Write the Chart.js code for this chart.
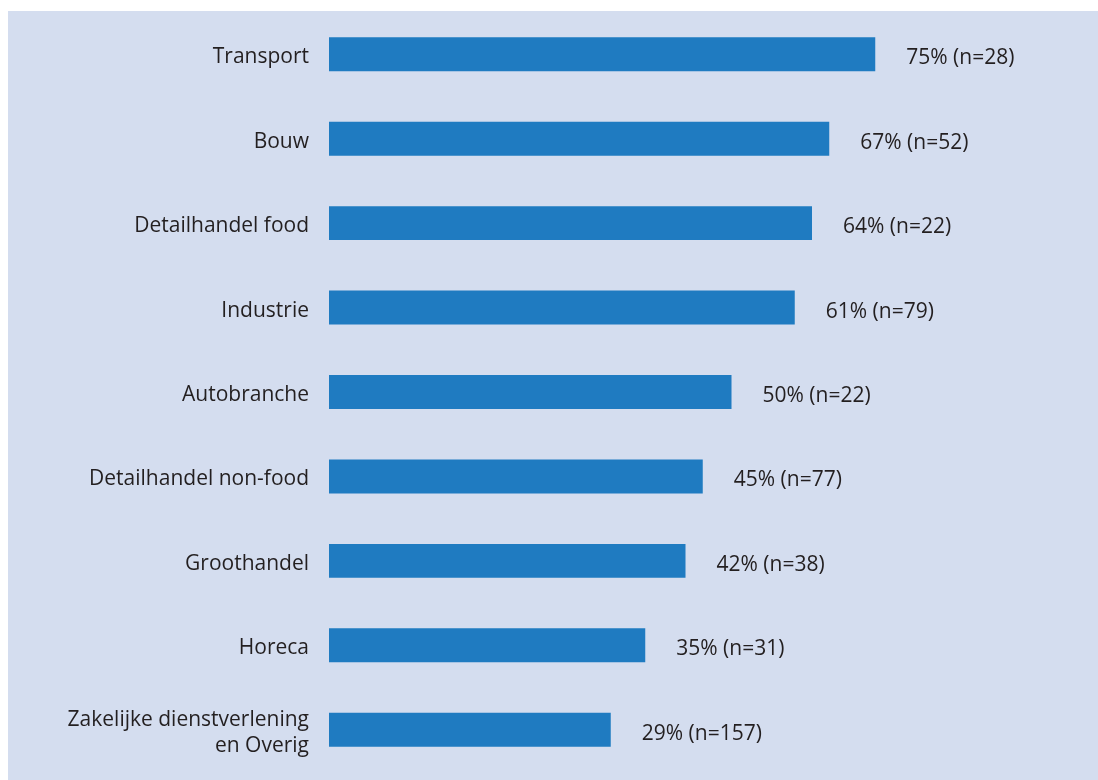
<!DOCTYPE html>
<html>
<head>
<meta charset="utf-8">
<script src="https://cdn.jsdelivr.net/npm/chart.js@4.4.1/dist/chart.umd.min.js"></script>
<style>
  html, body { margin: 0; padding: 0; background: #ffffff; }
  #panel {
    position: absolute; left: 8px; top: 11px;
    width: 1090px; height: 769px;
    background: #d4ddef;
  }
  #panel canvas { display: block; }
</style>
</head>
<body>
<div id="panel"><canvas id="chart" width="1090" height="769"></canvas></div>
<script>
// Sectors (categories), share in percent and number of respondents
const sectors = [
  'Transport',
  'Bouw',
  'Detailhandel food',
  'Industrie',
  'Autobranche',
  'Detailhandel non-food',
  'Groothandel',
  'Horeca',
  ['Zakelijke dienstverlening', 'en Overig']
];
const shares = [75, 67, 64, 61, 50, 45, 42, 35, 29];
const respondents = [28, 52, 22, 79, 22, 77, 38, 31, 157];

const TEXT_COLOR = '#231f20';
const BAR_COLOR = '#1f7bc1';
const FONT_FAMILY = '"Open Sans", "Noto Sans", sans-serif';
const FONT_SIZE = 21;

// Writes "xx% (n=yy)" to the right of each bar
const valueLabels = {
  id: 'valueLabels',
  afterDatasetsDraw(chart) {
    const { ctx } = chart;
    const meta = chart.getDatasetMeta(0);
    ctx.save();
    ctx.font = FONT_SIZE + 'px ' + FONT_FAMILY;
    ctx.fillStyle = TEXT_COLOR;
    ctx.textAlign = 'left';
    ctx.textBaseline = 'middle';
    meta.data.forEach((bar, i) => {
      const text = shares[i] + '% (n=' + respondents[i] + ')';
      ctx.fillText(text, bar.x + 31, bar.y + 4);
    });
    ctx.restore();
  }
};

new Chart(document.getElementById('chart'), {
  type: 'bar',
  data: {
    labels: sectors,
    datasets: [{
      data: shares,
      backgroundColor: BAR_COLOR,
      borderWidth: 0,
      base: -20,
      categoryPercentage: 1,
      barPercentage: 0.402
    }]
  },
  options: {
    indexAxis: 'y',
    responsive: false,
    animation: false,
    layout: { padding: { top: 1, bottom: 8, left: 0, right: 79 } },
    plugins: {
      legend: { display: false },
      tooltip: { enabled: false }
    },
    scales: {
      x: {
        display: false,
        min: -20,
        max: 100
      },
      y: {
        grid: { display: false, drawTicks: false },
        border: { display: false },
        afterFit(scale) {
          scale.width = 321;
          scale.paddingTop = 0;
          scale.paddingBottom = 0;
        },
        ticks: {
          padding: 20,
          labelOffset: 3,
          color: TEXT_COLOR,
          font: { family: FONT_FAMILY, size: FONT_SIZE, lineHeight: 1.24 }
        }
      }
    }
  },
  plugins: [valueLabels]
});
</script>
</body>
</html>
